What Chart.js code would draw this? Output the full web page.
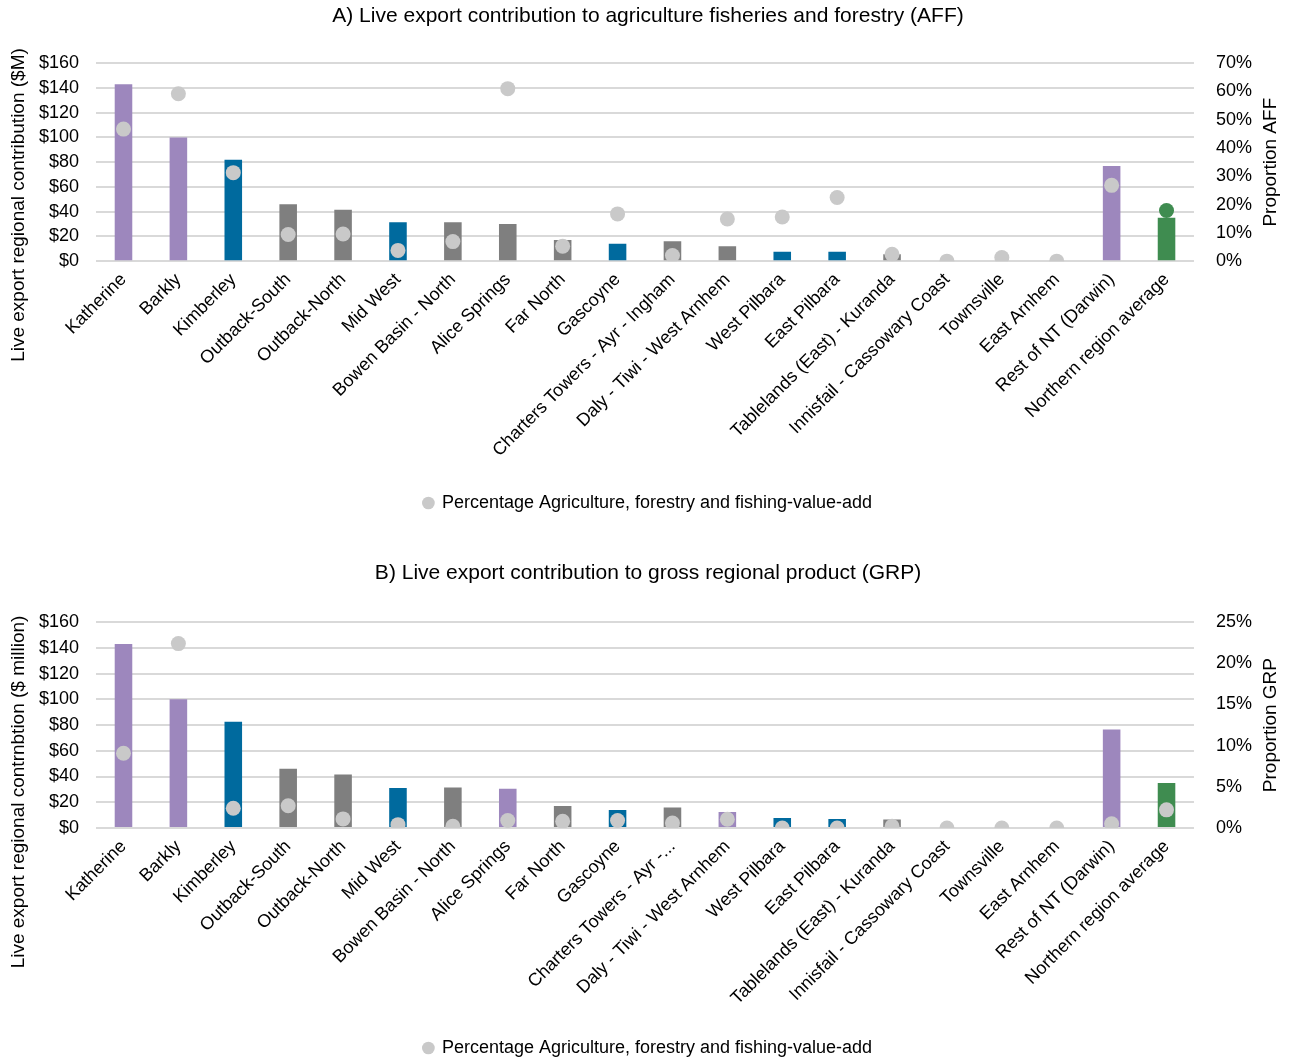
<!DOCTYPE html>
<html><head><meta charset="utf-8">
<script src="https://cdn.jsdelivr.net/npm/chart.js@4"></script>
<style>
html,body{margin:0;padding:0;background:#fff;}
#wrapA{position:absolute;left:0;top:0;width:1292px;height:522px;}
#wrapB{position:absolute;left:0;top:559px;width:1292px;height:501px;}
</style></head><body>
<div id="wrapA"><canvas id="chartA"></canvas></div>
<div id="wrapB"><canvas id="chartB"></canvas></div>
<script>
const categoriesA = ['Katherine','Barkly','Kimberley','Outback-South','Outback-North','Mid West','Bowen Basin - North','Alice Springs','Far North','Gascoyne','Charters Towers - Ayr - Ingham','Daly - Tiwi - West Arnhem','West Pilbara','East Pilbara','Tablelands (East) - Kuranda','Innisfail - Cassowary Coast','Townsville','East Arnhem','Rest of NT (Darwin)','Northern region average'];
const categoriesB = ['Katherine','Barkly','Kimberley','Outback-South','Outback-North','Mid West','Bowen Basin - North','Alice Springs','Far North','Gascoyne','Charters Towers - Ayr -...','Daly - Tiwi - West Arnhem','West Pilbara','East Pilbara','Tablelands (East) - Kuranda','Innisfail - Cassowary Coast','Townsville','East Arnhem','Rest of NT (Darwin)','Northern region average'];

const contributionA = [143,100,82,46,41.5,31.5,31.5,30,17,14,16,12,7.5,7.5,5.5,0,0,0,77,35];
const shareAFF      = [0.467,0.592,0.313,0.094,0.096,0.038,0.069,0.61,0.053,0.167,0.02,0.149,0.156,0.225,0.024,0,0.013,0,0.268,0.179];
const contributionB = [143,100,82.5,46,41.5,31,31.5,30.5,17,14,16,12.5,7.8,7,6.5,0,0,0,76.5,35];
const shareGRP      = [0.0907,0.224,0.024,0.027,0.011,0.004,0.002,0.009,0.008,0.009,0.006,0.0105,0,0,0.002,0,0,0,0.005,0.022];

const barGroupA = ['p','p','b','g','g','b','g','g','g','b','g','g','b','b','g','g','g','g','p','a'];
const barGroupB = ['p','p','b','g','g','b','g','p','g','b','g','p','b','b','g','g','g','g','p','a'];

const yTicksLeft = [0,20,40,60,80,100,120,140,160];
const seriesLabel = 'Percentage Agriculture, forestry and fishing-value-add';

const COLORS = {p:'#9d87bd', b:'#006a9e', g:'#7f7f7f', a:'#3f8c50'};
const POINT = '#c9c9c9';
const FONT = "'Liberation Sans Narrow','Arial Narrow','Liberation Sans',Arial,sans-serif";
const GRID = '#d9d9d9';

const axisTitles = {
  id:'axisTitles',
  afterDraw(chart, args, opts){
    const ctx = chart.ctx, ca = chart.chartArea;
    ctx.save();
    ctx.font = `19px ${FONT}`;
    ctx.fillStyle = '#000';
    ctx.textAlign = 'center';
    ctx.textBaseline = 'middle';
    ctx.translate(opts.leftX, opts.leftY);
    ctx.rotate(-Math.PI/2);
    ctx.fillText(opts.left, 0, 0);
    ctx.restore();
    ctx.save();
    ctx.font = `19px ${FONT}`;
    ctx.fillStyle = '#000';
    ctx.textAlign = 'center';
    ctx.textBaseline = 'middle';
    ctx.translate(opts.rightX, (ca.top+ca.bottom)/2);
    ctx.rotate(-Math.PI/2);
    ctx.fillText(opts.right, 0, 0);
    ctx.restore();
  }
};

function makeChart(id, title, cats, bars, groups, shares, rightMax, rightStep, lastPointGreen, leftTitle, leftY, rightTitle, titleTop, titleBottom, extraX, padBottom){
  const pointColors = shares.map((v,i)=> (lastPointGreen && i===shares.length-1) ? COLORS.a : POINT);
  return new Chart(document.getElementById(id), {
    type:'bar',
    data:{
      labels: cats,
      datasets:[
        {type:'line', label: seriesLabel, data: shares, yAxisID:'y1', showLine:false,
         pointRadius:7.5, pointHoverRadius:7.5, pointBackgroundColor: pointColors, pointBorderColor: pointColors,
         backgroundColor: POINT, borderColor: POINT, pointBorderWidth:0, order:0},
        {type:'bar', label:'contribution', data: bars, yAxisID:'y',
         backgroundColor: groups.map(g=>COLORS[g]), categoryPercentage:1, barPercentage:0.32, order:1}
      ]
    },
    options:{
      responsive:true, maintainAspectRatio:false, animation:false,
      layout:{padding:{left:22, right:18, top:0, bottom:padBottom}},
      plugins:{
        title:{display:true, text:title, color:'#000', font:{family:FONT, size:21, weight:'normal'}, padding:{top:titleTop, bottom:titleBottom}},
        legend:{position:'bottom', labels:{filter:(it)=>it.datasetIndex===0, usePointStyle:true, pointStyle:'circle', boxWidth:9, boxHeight:9, color:'#000', font:{family:FONT, size:18}, padding:6}},
        tooltip:{enabled:false},
        axisTitles:{left:leftTitle, leftX:19, leftY:leftY, right:rightTitle, rightX:1271}
      },
      scales:{
        x:{grid:{display:false}, border:{display:false},
           afterFit:(s)=>{ s.height += extraX; },
           ticks:{color:'#000', font:{family:FONT, size:18}, maxRotation:45, minRotation:45, autoSkip:false, padding:0}},
        y:{position:'left', min:0, max:160, afterBuildTicks:(s)=>{s.ticks = yTicksLeft.map(v=>({value:v}));},
           grid:{color:GRID, lineWidth:2, drawTicks:false}, border:{display:false},
           ticks:{color:'#000', font:{family:FONT, size:18}, padding:17, callback:(v)=>'$'+v}},
        y1:{position:'right', min:0, max:rightMax, ticks:{stepSize:rightStep, color:'#000', font:{family:FONT, size:18}, padding:22,
           callback:(v)=>Math.round(v*100)+'%'}, grid:{display:false, drawTicks:false}, border:{display:false}}
      }
    },
    plugins:[axisTitles]
  });
}

makeChart('chartA','A) Live export contribution to agriculture fisheries and forestry (AFF)', categoriesA, contributionA, barGroupA, shareAFF, 0.7, 0.1, true,
  'Live export regional contribution ($M)', 205, 'Proportion AFF', 4, 34, 27, 0);
makeChart('chartB','B) Live export contribution to gross regional product (GRP)', categoriesB, contributionB, barGroupB, shareGRP, 0.25, 0.05, false,
  'Live export regional contrnbtion ($ million)', 233, 'Proportion GRP', 2, 36, 24, -7);
</script>
</body></html>
